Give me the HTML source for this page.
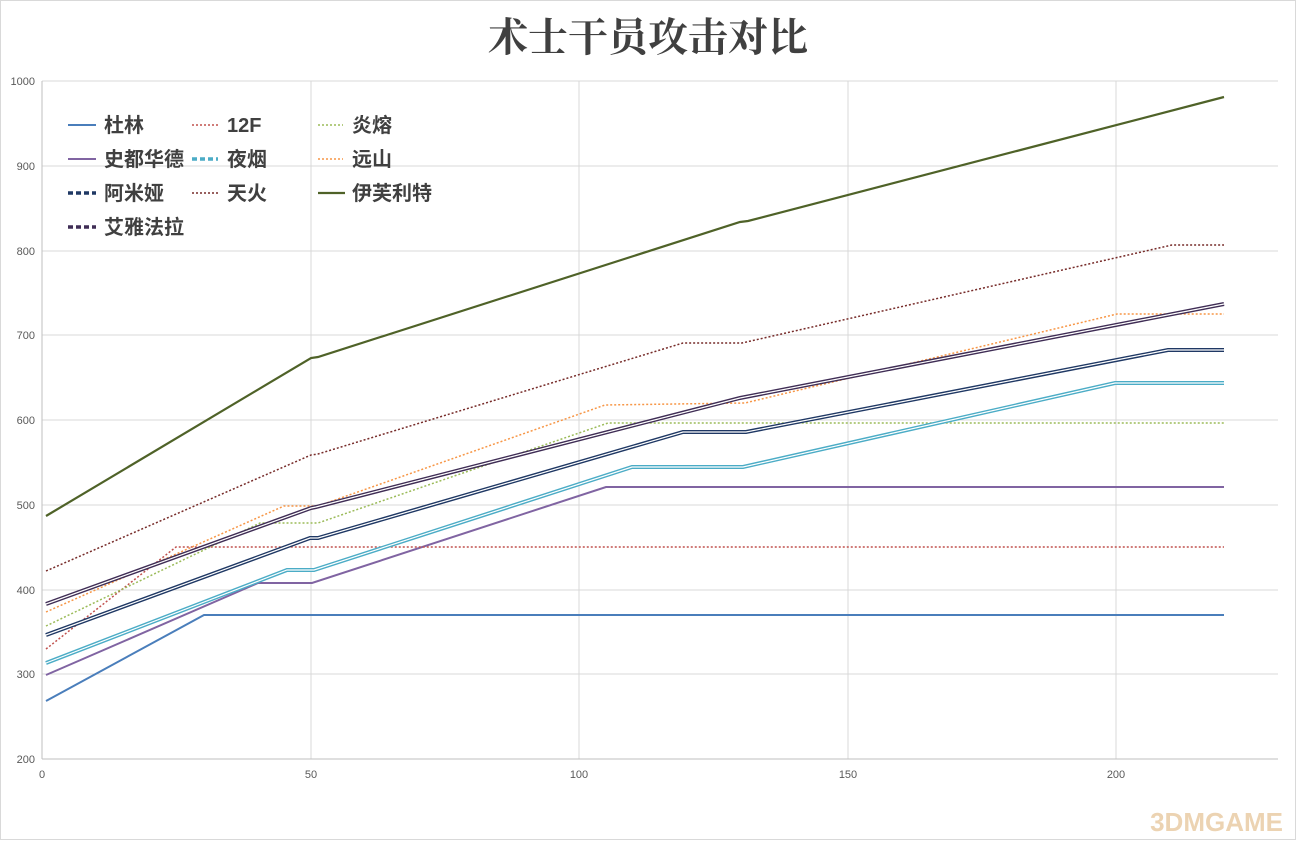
<!DOCTYPE html>
<html><head><meta charset="utf-8"><style>
body{margin:0;background:#fff}
svg text{font-family:"Liberation Sans","Noto Sans CJK SC",sans-serif}
</style></head><body>
<svg width="1296" height="840" xmlns="http://www.w3.org/2000/svg">
<rect x="0.5" y="0.5" width="1295" height="839" fill="#fff" stroke="#d9d9d9"/>
<text x="648" y="51" text-anchor="middle" font-size="40" font-weight="bold" fill="#404040" style="font-family:'Noto Serif CJK SC',serif">术士干员攻击对比</text>
<g stroke="#d9d9d9" stroke-width="1">
<line x1="42" y1="81" x2="1278" y2="81"/><line x1="42" y1="166" x2="1278" y2="166"/>
<line x1="42" y1="251" x2="1278" y2="251"/><line x1="42" y1="335" x2="1278" y2="335"/>
<line x1="42" y1="420" x2="1278" y2="420"/><line x1="42" y1="505" x2="1278" y2="505"/>
<line x1="42" y1="590" x2="1278" y2="590"/><line x1="42" y1="674" x2="1278" y2="674"/>
<line x1="311" y1="81" x2="311" y2="759"/><line x1="579" y1="81" x2="579" y2="759"/>
<line x1="848" y1="81" x2="848" y2="759"/><line x1="1116" y1="81" x2="1116" y2="759"/>
</g>
<g stroke="#bfbfbf"><line x1="42" y1="81" x2="42" y2="759"/><line x1="42" y1="759" x2="1278" y2="759"/></g>
<g font-size="11" fill="#595959" text-anchor="end">
<text x="35" y="85">1000</text><text x="35" y="170">900</text><text x="35" y="255">800</text>
<text x="35" y="339">700</text><text x="35" y="424">600</text><text x="35" y="509">500</text>
<text x="35" y="594">400</text><text x="35" y="678">300</text><text x="35" y="763">200</text>
</g>
<g font-size="11" fill="#595959" text-anchor="middle">
<text x="42" y="778">0</text><text x="311" y="778">50</text><text x="579" y="778">100</text>
<text x="848" y="778">150</text><text x="1116" y="778">200</text>
</g>
<g fill="none" stroke-width="2">
<polyline stroke="#4a7ebb" points="46,701 204,615 1224,615"/>
<polyline stroke="#8064a2" points="46,675 258,583 312,583 606,487 1224,487"/>
<polyline stroke="#c0504d" stroke-width="1.5" stroke-dasharray="2,2" points="46,649 176,547 1224,547"/>
<polyline stroke="#9bbb59" stroke-width="1.5" stroke-dasharray="2,2" points="46,626 260,523 318,523 608,423 1224,423"/>
<polyline stroke="#f79646" stroke-width="1.5" stroke-dasharray="2,2" points="46,612 284,506 318,506 605,405 745,403 1117,314 1224,314"/>
<polyline stroke="#772c2a" stroke-width="1.5" stroke-dasharray="2,2" points="46,571 311,455 318,454 683,343 742,343 1172,245 1224,245"/>
<polyline stroke="#4bacc6" stroke-width="4" points="46,663 287,570 314,570 632,467 743,467 1115,383 1224,383"/>
<polyline stroke="#fff" stroke-width="1.2" points="46,663 287,570 314,570 632,467 743,467 1115,383 1224,383"/>
<polyline stroke="#1f3864" stroke-width="4" points="46,635 310,538 318,538 683,432 746,432 1168,350 1224,350"/>
<polyline stroke="#fff" stroke-width="1.2" points="46,635 310,538 318,538 683,432 746,432 1168,350 1224,350"/>
<polyline stroke="#3f2d55" stroke-width="4" points="46,604 311,508 316,507 740,398 1224,304"/>
<polyline stroke="#fff" stroke-width="1.2" points="46,604 311,508 316,507 740,398 1224,304"/>
<polyline stroke="#4f6228" stroke-width="2.2" points="46,516 311,358 318,357 740,222 748,221 1224,97"/>
</g>
<g font-size="20" fill="#404040" style="font-weight:bold">
<line x1="68" y1="125" x2="96" y2="125" stroke="#4a7ebb" stroke-width="2"/><text x="104" y="132">杜林</text>
<line x1="192" y1="125" x2="218" y2="125" stroke="#c0504d" stroke-width="1.5" stroke-dasharray="2,2"/><text x="227" y="132">12F</text>
<line x1="318" y1="125" x2="343" y2="125" stroke="#9bbb59" stroke-width="1.5" stroke-dasharray="2,2"/><text x="352" y="132">炎熔</text>
<line x1="68" y1="159" x2="96" y2="159" stroke="#8064a2" stroke-width="2"/><text x="104" y="166">史都华德</text>
<line x1="192" y1="159" x2="218" y2="159" stroke="#4bacc6" stroke-width="3.5" stroke-dasharray="5,3"/><text x="227" y="166">夜烟</text>
<line x1="318" y1="159" x2="343" y2="159" stroke="#f79646" stroke-width="1.5" stroke-dasharray="2,2"/><text x="352" y="166">远山</text>
<line x1="68" y1="193" x2="96" y2="193" stroke="#1f3864" stroke-width="3.5" stroke-dasharray="5,3"/><text x="104" y="200">阿米娅</text>
<line x1="192" y1="193" x2="218" y2="193" stroke="#772c2a" stroke-width="1.5" stroke-dasharray="2,2"/><text x="227" y="200">天火</text>
<line x1="318" y1="193" x2="345" y2="193" stroke="#4f6228" stroke-width="2.2"/><text x="352" y="200">伊芙利特</text>
<line x1="68" y1="227" x2="96" y2="227" stroke="#3f2d55" stroke-width="3.5" stroke-dasharray="5,3"/><text x="104" y="234">艾雅法拉</text>
</g>
<text x="1283" y="831" text-anchor="end" font-size="26" font-weight="bold" fill="#e8c9a0" opacity="0.8">3DMGAME</text>
</svg>
</body></html>
